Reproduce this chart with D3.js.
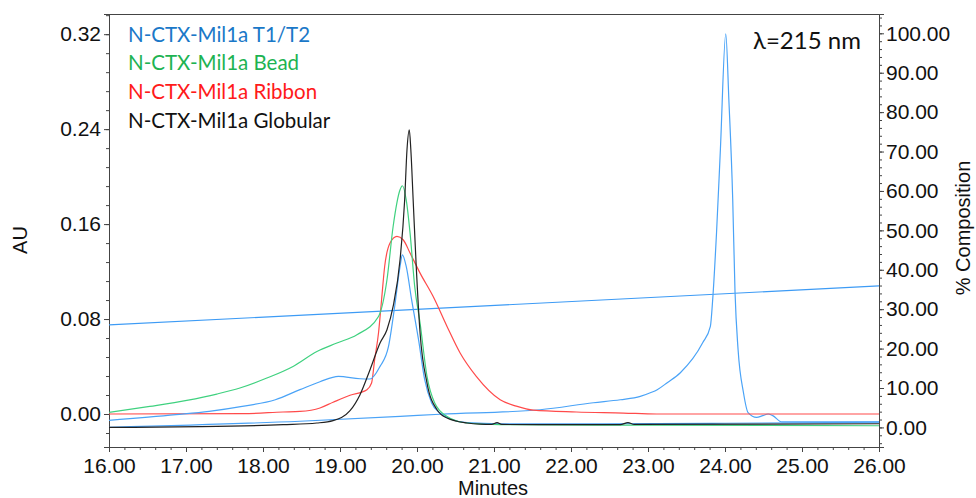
<!DOCTYPE html>
<html>
<head>
<meta charset="utf-8">
<script src="https://cdn.jsdelivr.net/npm/d3@7"></script>
<style>
  html, body { margin: 0; padding: 0; background: #fff; }
  svg { display: block; }
</style>
</head>
<body>
<svg id="chart" width="976" height="498"></svg>
<script>
// ---------------- DATA ----------------
const legendLabels = ["N-CTX-Mil1a T1/T2", "N-CTX-Mil1a Bead", "N-CTX-Mil1a Ribbon", "N-CTX-Mil1a Globular"];
const legendColors = ["#1a78c8", "#1db352", "#ff1a1a", "#111111"];

// [minutes, AU]
const t1t2Early = [
  [16.00,-0.0054],[16.87,-0.0006],[17.30,0.0022],[17.73,0.0064],[18.16,0.0120],[18.48,0.0205],
  [18.74,0.0272],[18.98,0.0317],[19.26,0.0297],[19.39,0.0295],[19.52,0.0401],[19.63,0.0569],
  [19.71,0.0906],[19.78,0.1243],[19.81,0.1341],[19.86,0.1243],[19.93,0.0963],[20.02,0.0626],
  [20.10,0.0289],[20.19,0.0093],[20.30,0.0008],[20.43,-0.0040],[20.65,-0.0073],[21.08,-0.0082],
  [22.38,-0.0082],[24.00,-0.0078],[26.00,-0.0069]
];
const t1t2Late = [
  [16.00,-0.0113],[18.48,-0.0061],[19.78,-0.0020],[20.30,-0.0002],[21.60,0.0036],[22.29,0.0095],
  [22.64,0.0120],[22.90,0.0148],[23.03,0.0179],[23.12,0.0205],[23.25,0.0264],[23.42,0.0348],
  [23.71,0.0600],[23.81,0.0738],[23.84,0.0963],[23.89,0.1527],[23.94,0.2226],[24.01,0.3203],
  [24.05,0.2650],[24.10,0.1814],[24.13,0.1031],[24.17,0.0541],[24.24,0.0179],[24.30,0.0011],
  [24.41,-0.0029],[24.49,-0.0014],[24.56,0.0000],[24.62,-0.0014],[24.74,-0.0067],[26.00,-0.0067]
];
const bead = [
  [16.00,0.0013],[16.53,0.0064],[17.01,0.0115],[17.40,0.0168],[17.70,0.0219],[18.05,0.0303],
  [18.39,0.0401],[18.70,0.0527],[18.96,0.0598],[19.22,0.0668],[19.50,0.0822],[19.61,0.1131],
  [19.69,0.1580],[19.78,0.1889],[19.81,0.1923],[19.86,0.1804],[19.91,0.1524],[19.97,0.1075],
  [20.04,0.0766],[20.13,0.0317],[20.23,0.0093],[20.39,-0.0020],[20.65,-0.0076],[21.08,-0.0090],
  [23.00,-0.0094],[26.00,-0.0099]
];
const ribbon = [
  [16.00,0.0000],[17.74,0.0003],[18.26,0.0017],[18.48,0.0022],[18.74,0.0051],[18.91,0.0099],
  [19.13,0.0158],[19.35,0.0205],[19.41,0.0261],[19.45,0.0457],[19.50,0.0682],[19.54,0.0963],
  [19.58,0.1243],[19.65,0.1440],[19.74,0.1496],[19.82,0.1468],[19.91,0.1356],[20.04,0.1187],
  [20.21,0.0990],[20.39,0.0738],[20.56,0.0514],[20.77,0.0317],[21.08,0.0120],[21.29,0.0066],
  [21.51,0.0032],[22.07,0.0017],[22.68,0.0008],[23.11,0.0000],[26.00,0.0000]
];
const globular = [
  [16.00,-0.0113],[17.18,-0.0107],[18.26,-0.0090],[18.70,-0.0076],[18.91,-0.0056],[19.13,0.0028],
  [19.26,0.0163],[19.39,0.0373],[19.52,0.0598],[19.61,0.0710],[19.69,0.0906],[19.78,0.1299],
  [19.84,0.1805],[19.87,0.2226],[19.90,0.2394],[19.92,0.2226],[19.95,0.1805],[19.99,0.1243],
  [20.04,0.0682],[20.13,0.0261],[20.26,0.0036],[20.39,-0.0034],[20.65,-0.0076],[20.82,-0.0086],
  [20.97,-0.0088],[21.04,-0.0073],[21.10,-0.0088],[21.86,-0.0090],[22.64,-0.0090],[22.74,-0.0072],
  [22.82,-0.0088],[26.00,-0.0082]
];
// gradient, [minutes, % composition]
const gradient = [[16.00,26.0],[26.00,35.9]];

const xTicks = [16,17,18,19,20,21,22,23,24,25,26];
const yLeftTicks = [0.00,0.08,0.16,0.24,0.32];
const yRightTicks = [0,10,20,30,40,50,60,70,80,90,100];

// ---------------- LAYOUT ----------------
const L = 109, R = 879, T = 14, B = 447;
const svg = d3.select("#chart");
const x = d3.scaleLinear().domain([16,26]).range([L,R]);
const yL = d3.scaleLinear().domain([-0.0278,0.337]).range([B,T]);
const yR = d3.scaleLinear().domain([-4.97,104.9]).range([B,T]);

const axisColor = "#444";
const tickFont = "'Liberation Sans', Arial, sans-serif";

svg.append("defs").append("clipPath").attr("id","clip")
  .append("rect").attr("x",L).attr("y",T).attr("width",R-L).attr("height",B-T);

// frame top line
svg.append("line").attr("x1",L).attr("x2",R).attr("y1",T+0.5).attr("y2",T+0.5)
  .attr("stroke",axisColor).attr("stroke-width",1);

function styleAxis(g){
  g.select(".domain").attr("stroke",axisColor);
  g.selectAll(".tick line").attr("stroke",axisColor);
  g.selectAll(".tick text").attr("fill","#111").style("font-family",tickFont).style("font-size","21px");
}

// minor ticks
const xMinor = d3.range(16,26.001,0.2).map(d=>+d.toFixed(2));
const yLMinor = d3.range(-0.016,0.337,0.016).map(d=>+d.toFixed(3));
const yRMinor = d3.range(-4,105,2);

svg.append("g").attr("transform",`translate(0,${B})`)
  .call(d3.axisBottom(x).tickValues(xMinor).tickSize(3).tickFormat(""))
  .call(styleAxis);
svg.append("g").attr("transform",`translate(0,${B})`)
  .call(d3.axisBottom(x).tickValues(xTicks).tickSize(5).tickPadding(6).tickFormat(d3.format(".2f")))
  .call(styleAxis);

svg.append("g").attr("transform",`translate(${L},0)`)
  .call(d3.axisLeft(yL).tickValues(yLMinor).tickSize(3).tickFormat(""))
  .call(styleAxis);
svg.append("g").attr("transform",`translate(${L},0)`)
  .call(d3.axisLeft(yL).tickValues(yLeftTicks).tickSize(5).tickPadding(3).tickFormat(d3.format(".2f")))
  .call(styleAxis);

svg.append("g").attr("transform",`translate(${R},0)`)
  .call(d3.axisRight(yR).tickValues(yRMinor).tickSize(3).tickFormat(""))
  .call(styleAxis);
svg.append("g").attr("transform",`translate(${R},0)`)
  .call(d3.axisRight(yR).tickValues(yRightTicks).tickSize(5).tickPadding(2).tickFormat(d3.format(".2f")))
  .call(styleAxis);

// axis titles
svg.append("text").attr("x",493).attr("y",495).attr("text-anchor","middle")
  .style("font-family",tickFont).style("font-size","20px").attr("fill","#111").text("Minutes");
svg.append("text").attr("transform","translate(27,240) rotate(-90)").attr("text-anchor","middle")
  .style("font-family",tickFont).style("font-size","20px").attr("fill","#111").text("AU");
svg.append("text").attr("transform","translate(970,228) rotate(-90)").attr("text-anchor","middle")
  .style("font-family",tickFont).style("font-size","20px").attr("fill","#111").text("% Composition");

// ---------------- LINES ----------------
const plot = svg.append("g").attr("clip-path","url(#clip)");
const lineL = d3.line().x(d=>x(d[0])).y(d=>yL(d[1])).curve(d3.curveMonotoneX);
const lineR = d3.line().x(d=>x(d[0])).y(d=>yR(d[1]));

plot.append("path").datum(gradient).attr("d",lineR).attr("fill","none").attr("stroke","#3d9bf5").attr("stroke-width",1.2);

const series = [
  {data: t1t2Late, color:"#4aa3f7"},
  {data: ribbon, color:"#ff4a4a"},
  {data: t1t2Early, color:"#4aa3f7"},
  {data: bead, color:"#3fd17f"},
  {data: globular, color:"#222222"}
];
series.forEach(s=>{
  plot.append("path").datum(s.data).attr("d",lineL).attr("fill","none")
    .attr("stroke",s.color).attr("stroke-width",1.2).attr("stroke-linejoin","round");
});

// ---------------- LEGEND ----------------
const legFont = "Lato, 'Open Sans', sans-serif";
legendLabels.forEach((t,i)=>{
  svg.append("text").attr("x",128).attr("y",41.5+i*28.7)
    .style("font-family",legFont).style("font-size","20.5px").attr("fill",legendColors[i]).text(t);
});
svg.append("text").attr("x",753).attr("y",49)
  .style("font-family",legFont).style("font-size","24px").attr("fill","#111").text("λ=215 nm");
</script>
</body>
</html>
